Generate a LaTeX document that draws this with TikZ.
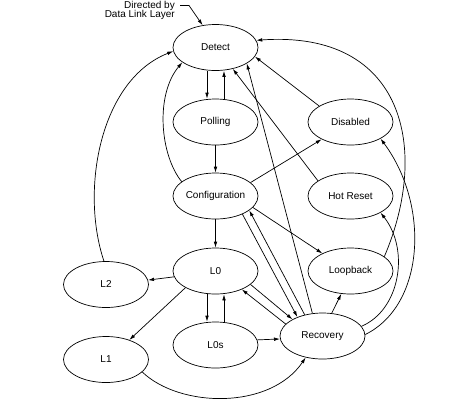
\documentclass[tikz,border=0pt]{standalone}
\usepackage{fontspec}
\setmainfont{Liberation Sans}
\usetikzlibrary{shapes.geometric,arrows.meta}
\begin{document}
\begin{tikzpicture}[x=1pt,y=-1pt,
  state/.style={ellipse,draw,line width=0.7pt,minimum width=85pt,minimum height=46pt,inner sep=0pt,font=\fontsize{10}{12}\selectfont},
  arr/.style={line width=0.7pt,-{Latex[length=6pt,width=3.6pt]}},
  ln/.style={line width=0.7pt}
]
\useasboundingbox[fill=white] (0,0) rectangle (468,400);
\node[state] (det) at (215.5,47.5) {Detect};
\node[state] (pol) at (215.5,122) {Polling};
\node[state] (dis) at (350.5,122) {Disabled};
\node[state] (cfg) at (215.5,196) {Configuration};
\node[state] (hot) at (350.5,196) {Hot Reset};
\node[state] (lz) at (215.5,271) {L0};
\node[state] (loop) at (350.5,271) {Loopback};
\node[state] (ltwo) at (106,284.5) {L2};
\node[state] (lone) at (106,359.5) {L1};
\node[state] (lzs) at (215.5,345) {L0s};
\node[state] (rec) at (322.5,336) {Recovery};

\node[font=\fontsize{10}{9.5}\selectfont, align=right, anchor=east, inner sep=0pt] (dir) at (175,10.5) {Directed by\\Data Link Layer};
\coordinate (dirA) at (180,5.5);
\coordinate (dirB) at (189,5.5);
\draw[arr] (dirA) -- (dirB) -- (det.120);

% Detect <-> Polling
\draw[arr] ([xshift=-8.5pt]det.south) -- ([xshift=-8.5pt]pol.north);
\draw[arr] ([xshift=8.5pt]pol.north) -- ([xshift=8.5pt]det.south);
\draw[arr] (pol) -- (cfg);
\draw[arr] (cfg) -- (lz);
% L0 <-> L0s
\draw[arr] ([xshift=-8.5pt]lz.south) -- ([xshift=-8.5pt]lzs.north);
\draw[arr] ([xshift=8.5pt]lzs.north) -- ([xshift=8.5pt]lz.south);

% Configuration -> Detect (curve)
\draw[arr] (cfg.157) .. controls (160,155) and (155,95) .. (det.204);
% L2 -> Detect
\draw[arr] (ltwo.95) .. controls (80,190) and (100,80) .. (det.185);
% Loopback -> Detect
\draw[arr] (loop.23) .. controls (430,150) and (405,30) .. (det.10);
% Recovery -> Disabled
\draw[arr] (rec.2) .. controls (425,305) and (430,205) .. (dis.-29);
% Recovery -> Hot Reset
\draw[arr] (rec.14) .. controls (400,310) and (410,250) .. (hot.-29);
% L1 -> Recovery
\draw[arr] (lone.-19) .. controls (180,408) and (270,410) .. (rec.-128);

% straight lines
\draw[arr] (dis.153) -- (det.-13);
\draw[arr] (hot.155) -- (det.-51);
\draw[arr] (rec.114) -- (det.-27);
\draw[arr] (cfg.21) -- (dis.211);
\draw[arr] (cfg.-17) -- (loop.148);
\draw[arr] (cfg.-34) -- (rec.143);
\draw[arr] (rec.130) -- (cfg.-23);
\draw[arr] (lz.-21) -- (rec.151);
\draw[arr] (rec.162) -- (lz.-35);
\draw[arr] (lz.188) -- (ltwo.6);
\draw[arr] (lz.209) -- (lone.40);
\draw[arr] (rec.68) -- (loop.248);
\draw[arr] (lzs.7) -- (rec.184);
\end{tikzpicture}
\end{document}
